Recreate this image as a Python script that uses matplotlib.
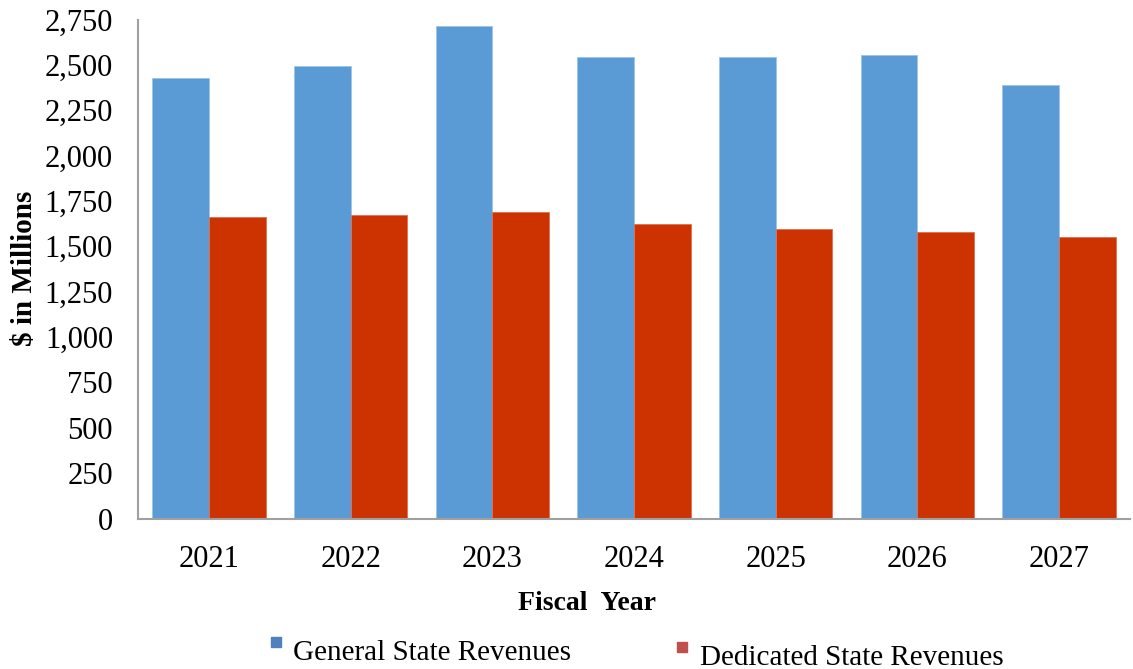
import matplotlib
matplotlib.use("Agg")
import matplotlib.pyplot as plt
import numpy as np
from matplotlib.patches import Rectangle

years = ["2021", "2022", "2023", "2024", "2025", "2026", "2027"]
general = [2429, 2496, 2712, 2545, 2545, 2554, 2387]
dedicated = [1662, 1671, 1689, 1621, 1595, 1579, 1553]
yticks = list(range(0, 2751, 250))
series_names = ["General State Revenues", "Dedicated State Revenues"]

plt.rcParams['font.family'] = ['Liberation Serif', 'DejaVu Serif']

W, H = 1133, 669
fig = plt.figure(figsize=(W / 100, H / 100), dpi=100)
ax = fig.add_axes([138 / W, 1 - 518.5 / H, (1130 - 138) / W, (518.5 - 19.5) / H])

x = np.arange(len(years))
w = 0.4
ax.bar(x - w/2, general, width=w, color='#5B9BD5', edgecolor='#9DC3E6', linewidth=0.6)
ax.bar(x + w/2, dedicated, width=w, color='#CC3300', edgecolor='#E07050', linewidth=0.6)

ax.set_xlim(-0.5, len(years) - 0.5)
ax.set_ylim(0, 2750)
ax.set_yticks(yticks)
ax.set_yticklabels([f"{v:,}" for v in yticks], fontsize=22)
ax.set_xticks(x)
ax.set_xticklabels(years, fontsize=22)
ax.tick_params(axis='both', length=0)
ax.tick_params(axis='x', pad=19)
ax.tick_params(axis='y', pad=18)
for s in ['top', 'right']:
    ax.spines[s].set_visible(False)
for s in ['left', 'bottom']:
    ax.spines[s].set_color('#A0A0A0')
    ax.spines[s].set_linewidth(1.5)

ax.set_xlabel("Fiscal  Year", fontsize=20, fontweight='bold', va='center')
ax.xaxis.set_label_coords((587 - 138) / 992, (518.5 - 603) / 499)
ax.set_ylabel("$ in Millions", fontsize=21, fontweight='bold', va='center')
ax.yaxis.set_label_coords((25 - 138) / 992, (518.5 - 268) / 499)

# legend (manually placed entries as in the reference)
leg_colors = ['#4F81BD', '#C0504D']
leg_text_x = [293, 700]
leg_base_y = [660, 665]
leg_box = [(271, 637), (677, 642)]
for name, c, tx, by, (bx, byt) in zip(series_names, leg_colors, leg_text_x, leg_base_y, leg_box):
    fig.patches.append(Rectangle((bx / W, 1 - (byt + 10) / H), 10 / W, 10 / H,
                                 transform=fig.transFigure, color=c))
    fig.text(tx / W, 1 - by / H, name, fontsize=21, va='baseline', ha='left')

fig.savefig("out.png", dpi=100)
